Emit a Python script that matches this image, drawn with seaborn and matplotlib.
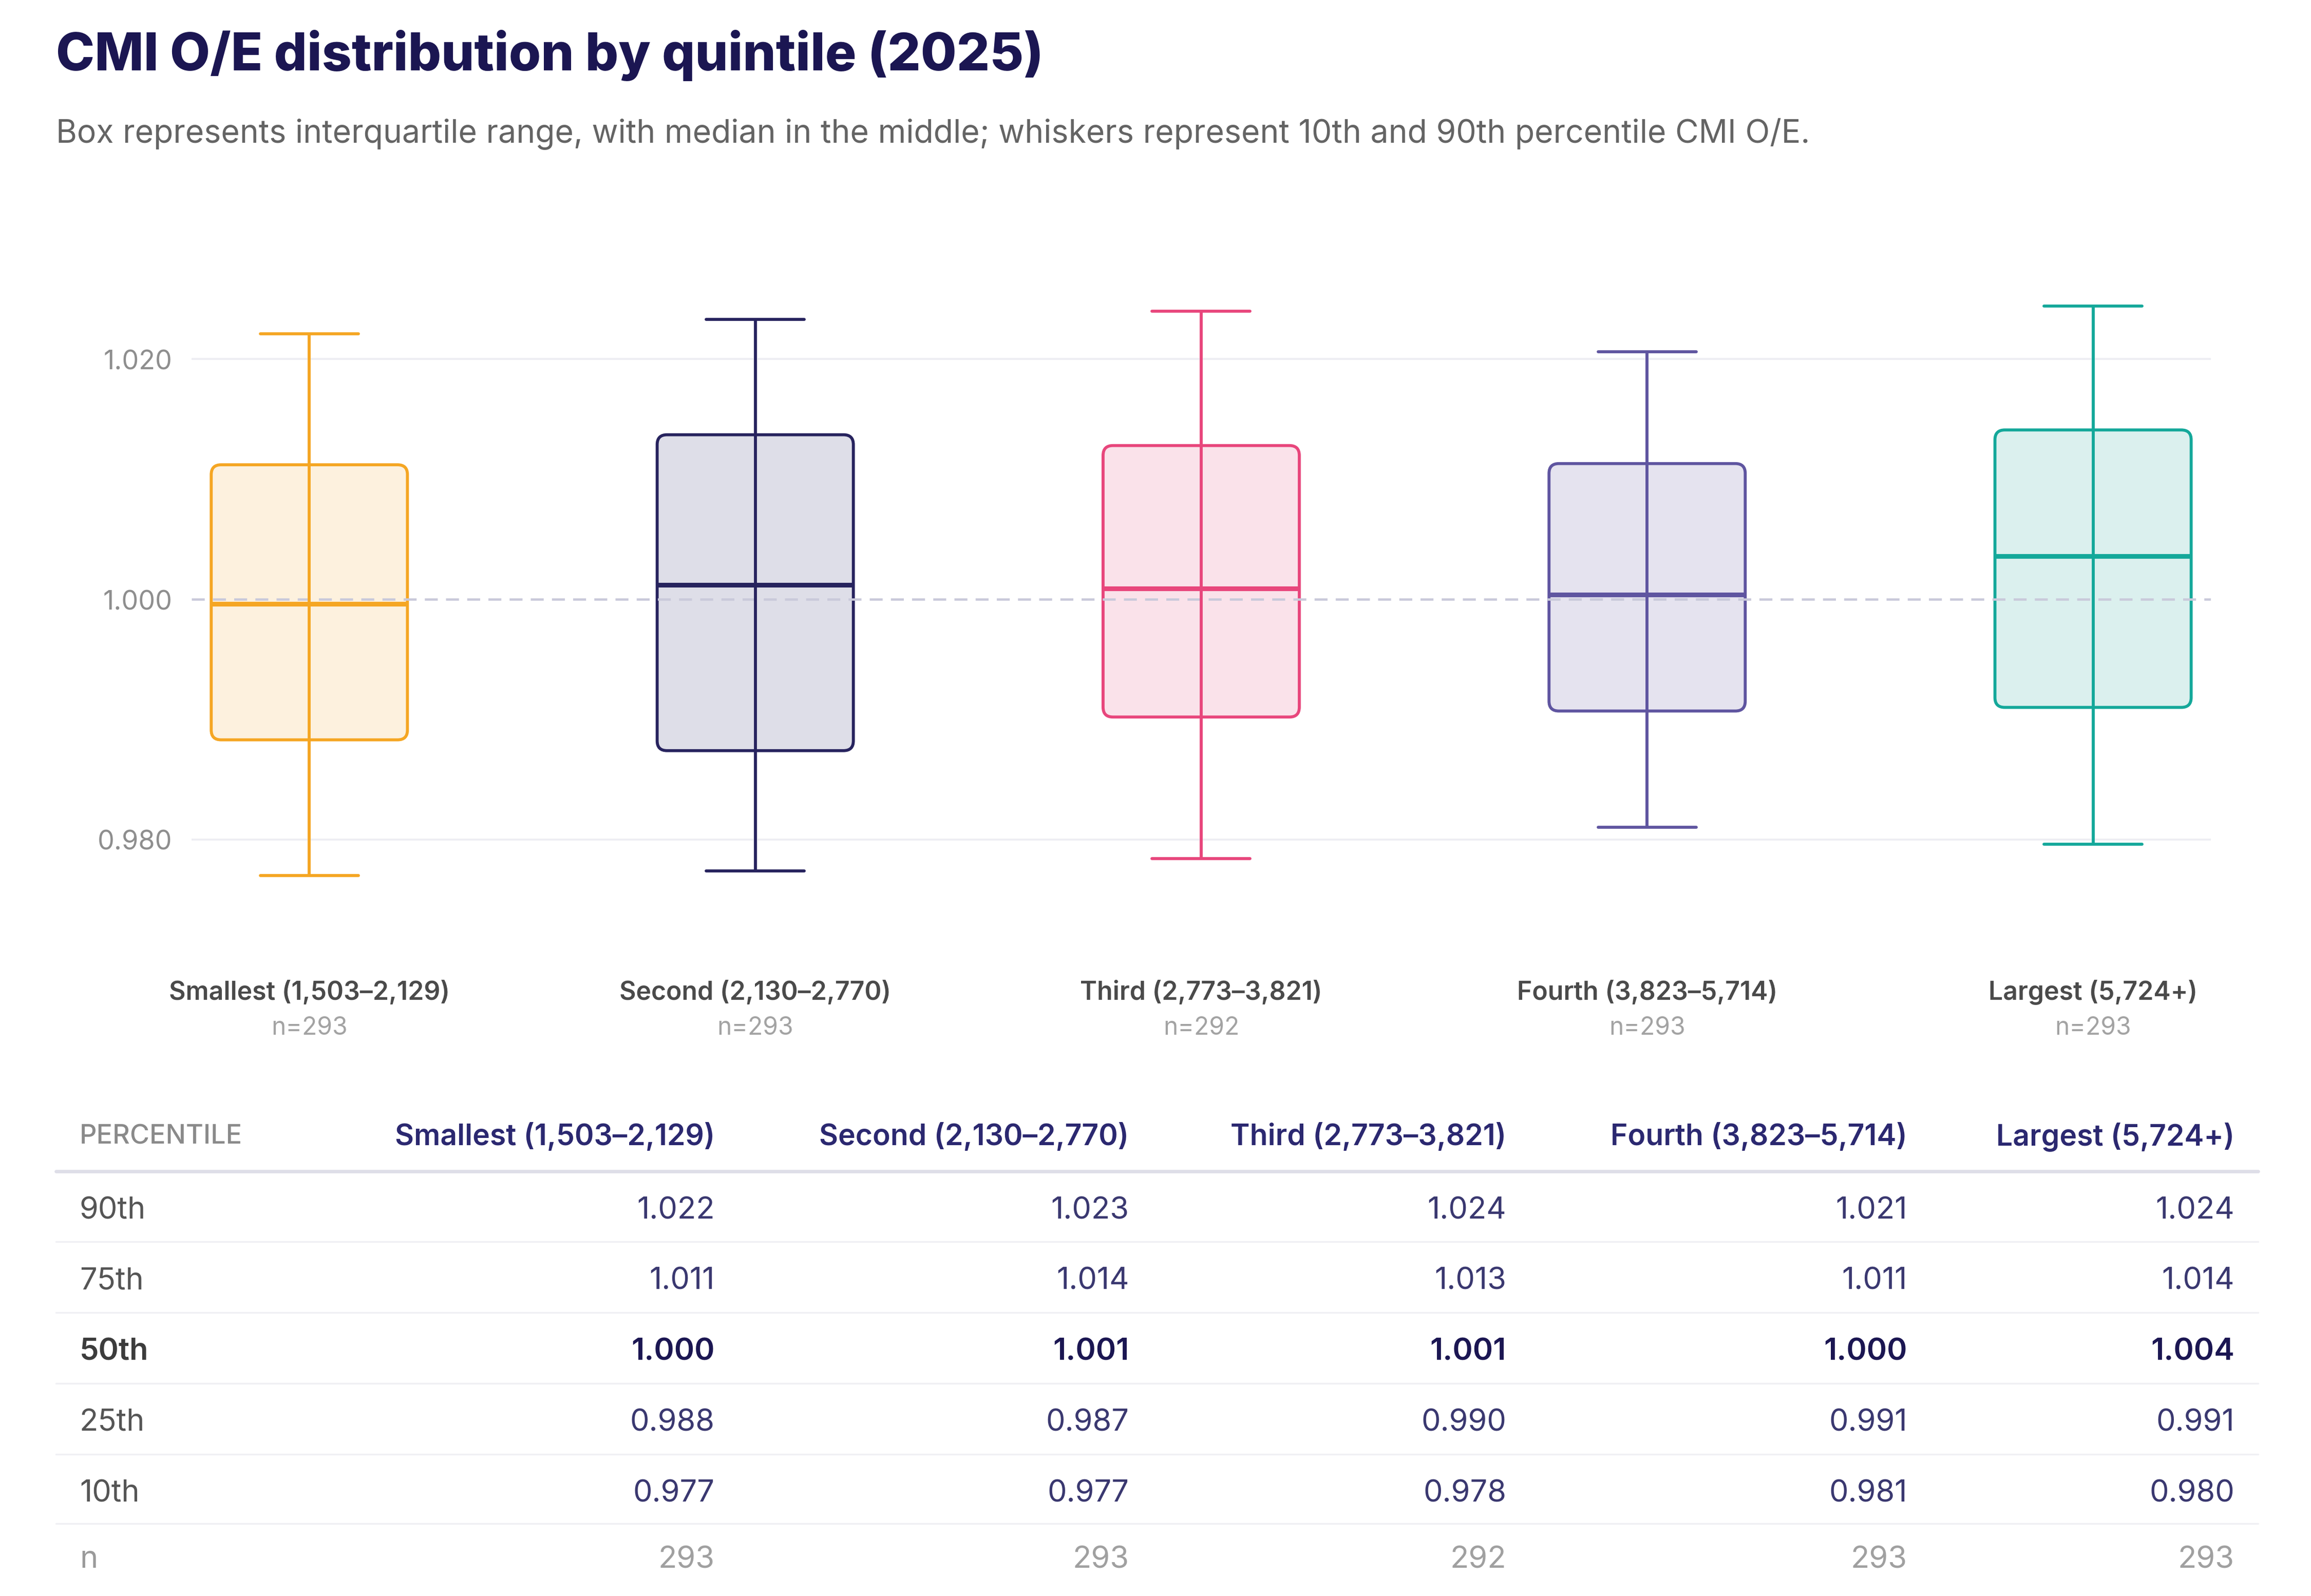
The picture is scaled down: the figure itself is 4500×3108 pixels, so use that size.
import numpy as np
import pandas as pd
import seaborn as sns
import matplotlib.pyplot as plt
from matplotlib.patches import FancyBboxPatch
from matplotlib.transforms import blended_transform_factory

# quintile groups
quintiles = ["Smallest (1,503–2,129)", "Second (2,130–2,770)", "Third (2,773–3,821)",
             "Fourth (3,823–5,714)", "Largest (5,724+)"]
n_counts = [293, 293, 292, 293, 293]

# percentiles of CMI O/E
p90 = [1.0221, 1.0233, 1.0240, 1.0206, 1.0244]
p75 = [1.0112, 1.0137, 1.0128, 1.0113, 1.0141]
p50 = [0.9996, 1.0012, 1.0009, 1.0004, 1.0036]
p25 = [0.9883, 0.9874, 0.9902, 0.9907, 0.9910]
p10 = [0.9770, 0.9774, 0.9784, 0.9810, 0.9796]

line_colors = ["#F5A623", "#27235E", "#E8467C", "#5F55A0", "#14A89A"]
fill_colors = ["#FDF1DE", "#DEDEE8", "#FAE2EA", "#E5E3EF", "#DBF0EE"]

# long form: the five percentiles per group, whiskers = min/max
rows = []
for i, q in enumerate(quintiles):
    for v in [p10[i], p25[i], p50[i], p75[i], p90[i]]:
        rows.append({"quintile": q, "value": v})
df = pd.DataFrame(rows)

sns.set_theme(style="white")
plt.rcParams["font.family"] = ["Inter", "DejaVu Sans"]

W, H = 1568, 1083.3  # reference layout units
dy = 2.5  # small nudge so centred text sits like the reference
fig = plt.figure(figsize=(15, 10.3633), dpi=300)
ax = fig.add_axes([130 / W, 1 - 610.75 / H, 1370 / W, (610.75 - 186.95) / H])
ov = fig.add_axes([0, 0, 1, 1], zorder=-1)
ov.set_xlim(0, W)
ov.set_ylim(H, 0)
ov.axis("off")

sns.boxplot(data=df, x="quintile", y="value", hue="quintile", palette=line_colors,
            whis=(0, 100), width=0.44, linewidth=1.4, fill=True, saturation=1,
            legend=False, ax=ax)

asp = (1 / 8150) / (1 / 302.5)
for i, cont in enumerate(ax.containers):
    lc = line_colors[i]
    for box in cont.boxes:
        verts = box.get_path().vertices
        x0, x1 = verts[:, 0].min(), verts[:, 0].max()
        y0, y1 = verts[:, 1].min(), verts[:, 1].max()
        box.set_visible(False)
        rb = FancyBboxPatch((x0, y0), x1 - x0, y1 - y0,
                            boxstyle="round,pad=0,rounding_size=0.022",
                            mutation_aspect=asp, facecolor=fill_colors[i],
                            edgecolor=lc, linewidth=1.4, zorder=2)
        ax.add_patch(rb)
    med = p50[i]
    for w in cont.whiskers:
        yd = w.get_ydata()
        w.set_ydata([med, yd[1]])
        w.set_color(lc)
        w.set_linewidth(1.4)
        w.set_zorder(3)
    for c in cont.caps:
        c.set_color(lc)
        c.set_linewidth(1.4)
        c.set_zorder(3)
    for m in cont.medians:
        m.set_color(lc)
        m.set_linewidth(2.2)
        m.set_zorder(4)

ax.axhline(1.0, color="#C9C9DA", lw=1.1, dashes=(5.5, 3.5), zorder=2.5)
for g in [0.98, 1.02]:
    ax.axhline(g, color="#EDEDF3", lw=0.9, zorder=0)

ax.set_ylim(0.975, 1.027)
ax.set_xlim(-0.264, 4.264)
ax.set_yticks([0.98, 1.0, 1.02])
ax.set_yticklabels(["0.980", "1.000", "1.020"])
ax.tick_params(axis="y", length=0, pad=9, labelsize=12.5, labelcolor="#8E8E8E")
ax.set_xticks([])
ax.set_xlabel("")
ax.set_ylabel("")
for s in ax.spines.values():
    s.set_visible(False)

# category labels under the boxes
bt = blended_transform_factory(ax.transData, ov.transData)
for i, q in enumerate(quintiles):
    ax.text(i, 671 + dy, q, transform=bt, ha="center", va="center", fontsize=12,
            fontweight="semibold", color="#4A4A4A", clip_on=False)
    ax.text(i, 695 + dy, f"n={n_counts[i]}", transform=bt, ha="center", va="center",
            fontsize=11.5, color="#A3A3A3", clip_on=False)

# title and subtitle
ov.text(38, 35 + dy, "CMI O/E distribution by quintile (2025)", ha="left", va="center",
        fontsize=24.3, fontweight="heavy", color="#1B1652")
ov.text(38, 88 + dy, "Box represents interquartile range, with median in the middle; "
        "whiskers represent 10th and 90th percentile CMI O/E.",
        ha="left", va="center", fontsize=15, color="#646464")

# table
col_right = [485, 766, 1022, 1294, 1516]
row_y = [819, 867, 915, 963, 1011, 1056]
row_names = ["90th", "75th", "50th", "25th", "10th", "n"]
row_vals = [p90, p75, p50, p25, p10]

ov.text(54, 769 + dy, "PERCENTILE", ha="left", va="center", fontsize=12.5,
        color="#8A8A8A", fontweight="medium")
for x, q in zip(col_right, quintiles):
    ov.text(x, 769 + dy, q, ha="right", va="center", fontsize=13.7,
            fontweight="semibold", color="#2B2870")
ov.plot([38, 1532], [795, 795], color="#DEDEE8", lw=1.6)
for yl in [843, 891, 939, 987, 1034]:
    ov.plot([38, 1532], [yl, yl], color="#F0F0F4", lw=0.8)

for r, name in enumerate(row_names):
    bold = name == "50th"
    lab_color = "#9A9A9A" if name == "n" else ("#3C3C3C" if bold else "#555555")
    ov.text(54, row_y[r] + dy, name, ha="left", va="center", fontsize=14.3,
            fontweight="semibold" if bold else "normal", color=lab_color)
    for c, x in enumerate(col_right):
        if name == "n":
            txt, col = str(n_counts[c]), "#A0A0A0"
        else:
            txt, col = f"{row_vals[r][c]:.3f}", ("#1B1652" if bold else "#3A3870")
        ov.text(x, row_y[r] + dy, txt, ha="right", va="center", fontsize=14.3,
                fontweight="semibold" if bold else "normal", color=col)

fig.savefig("out.png", dpi=300, facecolor="white")
